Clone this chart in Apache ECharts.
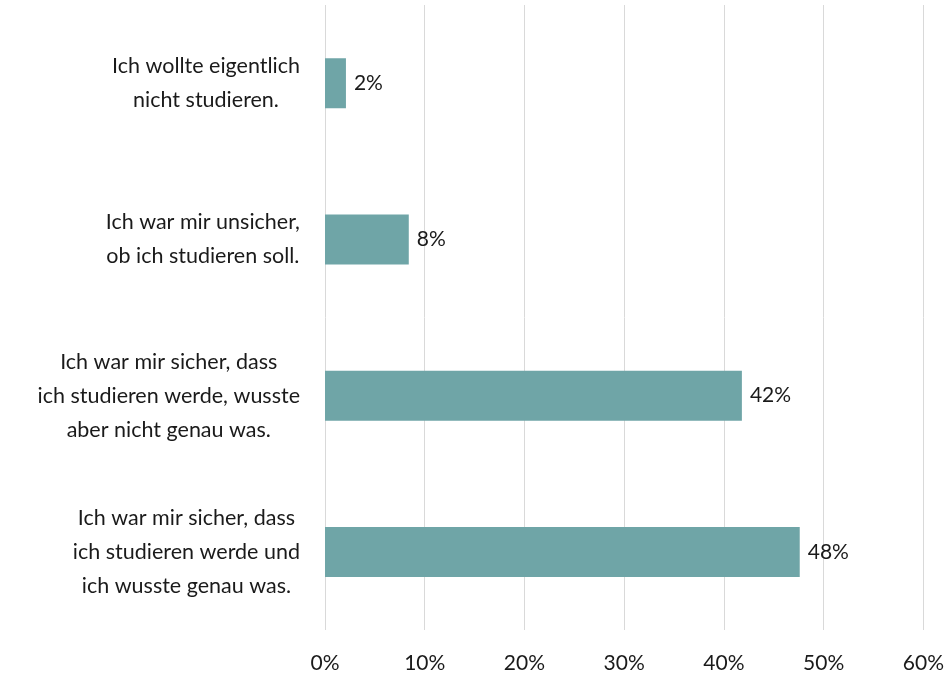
<!DOCTYPE html>
<html><head><meta charset="utf-8">
<script src="https://cdn.jsdelivr.net/npm/echarts@6/dist/echarts.min.js"></script>
<style>html,body{margin:0;padding:0;background:#fff}#c{width:947px;height:674px}</style>
</head><body><div id="c"></div>
<script>
const categories = [
  "Ich wollte eigentlich\nnicht studieren.",
  "Ich war mir unsicher,\nob ich studieren soll.",
  "Ich war mir sicher, dass\nich studieren werde, wusste\naber nicht genau was.",
  "Ich war mir sicher, dass\nich studieren werde und\nich wusste genau was."
];
const values = [2.1, 8.4, 41.8, 47.6];
const xTicks = [0, 10, 20, 30, 40, 50, 60];

const FONT = 'Lato';
const chart = echarts.init(document.getElementById('c'), null, {renderer: 'canvas'});
chart.setOption({
  animation: false,
  grid: {left: 325, right: 22, top: 5, bottom: 44, containLabel: false},
  xAxis: {
    type: 'value', min: xTicks[0], max: xTicks[xTicks.length - 1], interval: 10,
    axisLine: {show: false}, axisTick: {show: false},
    splitLine: {show: true, lineStyle: {color: '#d9d9d9', width: 1}},
    axisLabel: {formatter: v => v + '%', fontFamily: FONT, fontSize: 21, color: '#1a1a1a', margin: 23}
  },
  yAxis: {
    type: 'category', data: categories, inverse: true,
    axisLine: {show: false}, axisTick: {show: false},
    axisLabel: {
      margin: 25, align: 'right', fontFamily: FONT, fontSize: 21.5, color: '#1a1a1a', lineHeight: 34,
      formatter: v => v.split('\n').map(l => '{c|' + l + '}').join('\n'),
      rich: {c: {align: 'center', fontFamily: FONT, fontSize: 21.5, color: '#1a1a1a', lineHeight: 34}}
    }
  },
  series: [{
    type: 'bar', data: values, barWidth: 50,
    itemStyle: {color: '#6fa5a7'},
    label: {show: true, position: 'right', distance: 8, fontFamily: FONT, fontSize: 21, color: '#1a1a1a',
      formatter: p => Math.round(p.value) + '%'}
  }]
});
</script></body></html>
